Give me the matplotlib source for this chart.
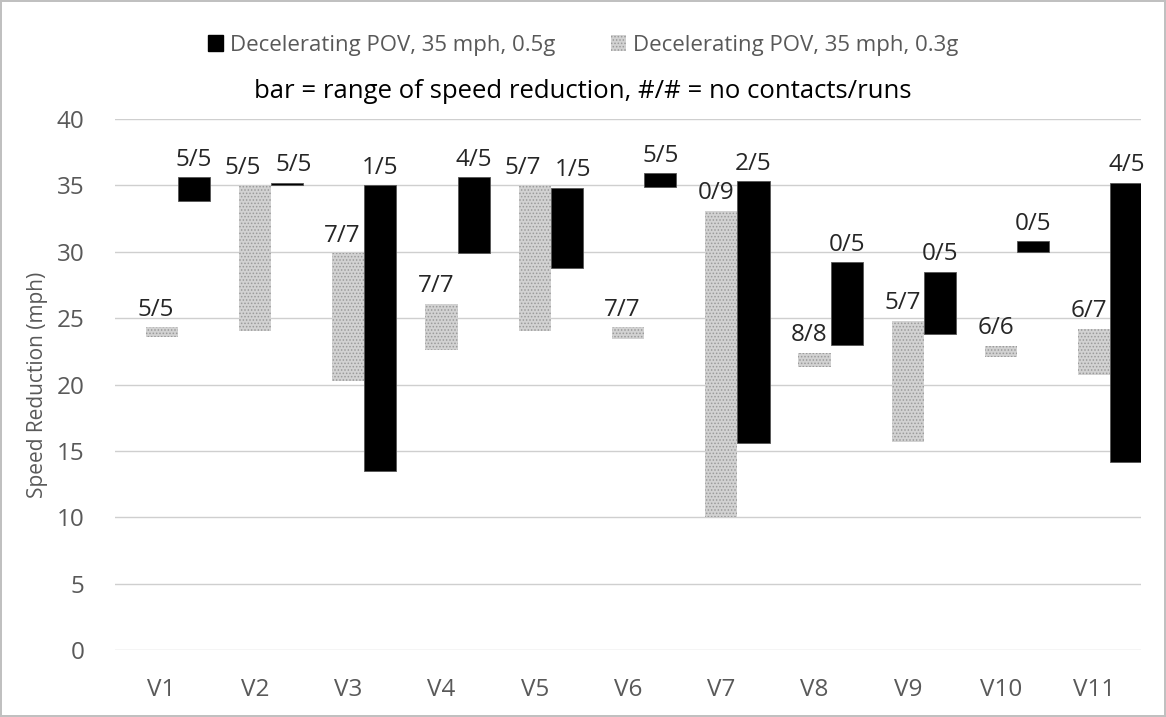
import numpy as np
import matplotlib.pyplot as plt
from matplotlib.patches import Patch

plt.rcParams['font.family'] = ['Open Sans', 'DejaVu Sans']
plt.rcParams['hatch.linewidth'] = 0.7

# data
vehicles = ["V1", "V2", "V3", "V4", "V5", "V6", "V7", "V8", "V9", "V10", "V11"]

# 0.3g series (gray): low / high end of the speed reduction range
low_03 = [23.6, 24.0, 20.3, 22.6, 24.0, 23.4, 10.0, 21.3, 15.7, 22.1, 20.7]
high_03 = [24.3, 35.0, 29.9, 26.1, 35.0, 24.3, 33.1, 22.4, 24.8, 22.9, 24.2]
runs_03 = ["5/5", "5/5", "7/7", "7/7", "5/7", "7/7", "0/9", "8/8", "5/7", "6/6", "6/7"]

# 0.5g series (black)
low_05 = [33.8, 35.0, 13.5, 29.9, 28.8, 34.9, 15.6, 23.0, 23.8, 30.0, 14.2]
high_05 = [35.6, 35.2, 35.0, 35.6, 34.8, 35.9, 35.3, 29.2, 28.5, 30.8, 35.2]
runs_05 = ["5/5", "5/5", "1/5", "4/5", "1/5", "5/5", "2/5", "0/5", "0/5", "0/5", "4/5"]

x = np.arange(len(vehicles))
w = 0.345

fig = plt.figure(figsize=(11.66, 7.17), dpi=100)
fig.patch.set_edgecolor('#c0c0c0')
fig.patch.set_linewidth(1.5)
ax = fig.add_axes([0.0986, 0.0934, 0.88, 0.7406])

gray_h = np.array(high_03) - np.array(low_03)
black_h = np.array(high_05) - np.array(low_05)

ax.bar(x, gray_h, bottom=low_03, width=w, color='#d2d2d2', hatch='.....',
       edgecolor='#9a9a9a', linewidth=0, zorder=3)
ax.bar(x + w, black_h, bottom=low_05, width=w, color='black',
       edgecolor='#555555', linewidth=0.6, zorder=3)

# labels above the bars, nudged apart when they sit at the same height
for i in range(len(vehicles)):
    dx = 0.0
    if abs(high_03[i] - high_05[i]) < 1.0:
        dx = 0.07
    ax.annotate(runs_03[i], (x[i] - 0.06 - dx, high_03[i]), xytext=(0, 4),
                textcoords='offset points', ha='center', va='bottom',
                fontsize=17.5, color='#262626', zorder=4)
    ax.annotate(runs_05[i], (x[i] + w + dx, high_05[i]), xytext=(0, 4),
                textcoords='offset points', ha='center', va='bottom',
                fontsize=17.5, color='#262626', zorder=4)

ax.set_xlim(-0.5, len(vehicles) - 0.5)
ax.set_ylim(0, 40)
ax.set_yticks(np.arange(0, 41, 5))
ax.set_xticks(x)
ax.set_xticklabels(vehicles)
ax.grid(axis='y', color='#cfcfcf', linewidth=1.0, zorder=0)
for s in ax.spines.values():
    s.set_visible(False)
ax.tick_params(length=0, labelsize=17.5, colors='#595959')
ax.tick_params(axis='y', pad=22)
ax.tick_params(axis='x', pad=20)
ax.set_ylabel("Speed Reduction (mph)", fontsize=15, color='#595959', labelpad=6)

fig.text(0.5, 0.872, "bar = range of speed reduction, #/# = no contacts/runs",
         ha='center', va='center', fontsize=18.5, color='black')

handles = [Patch(facecolor='black', edgecolor='black'),
           Patch(facecolor='#d2d2d2', hatch='.....', edgecolor='#9a9a9a', linewidth=0)]
fig.legend(handles, ["Decelerating POV, 35 mph, 0.5g", "Decelerating POV, 35 mph, 0.3g"],
           loc='center', bbox_to_anchor=(0.5, 0.937), ncol=2, frameon=False,
           fontsize=16, labelcolor='#595959', handlelength=0.7, handleheight=0.7,
           handletextpad=0.3, columnspacing=2.5)

fig.savefig("out.png", dpi=100)
